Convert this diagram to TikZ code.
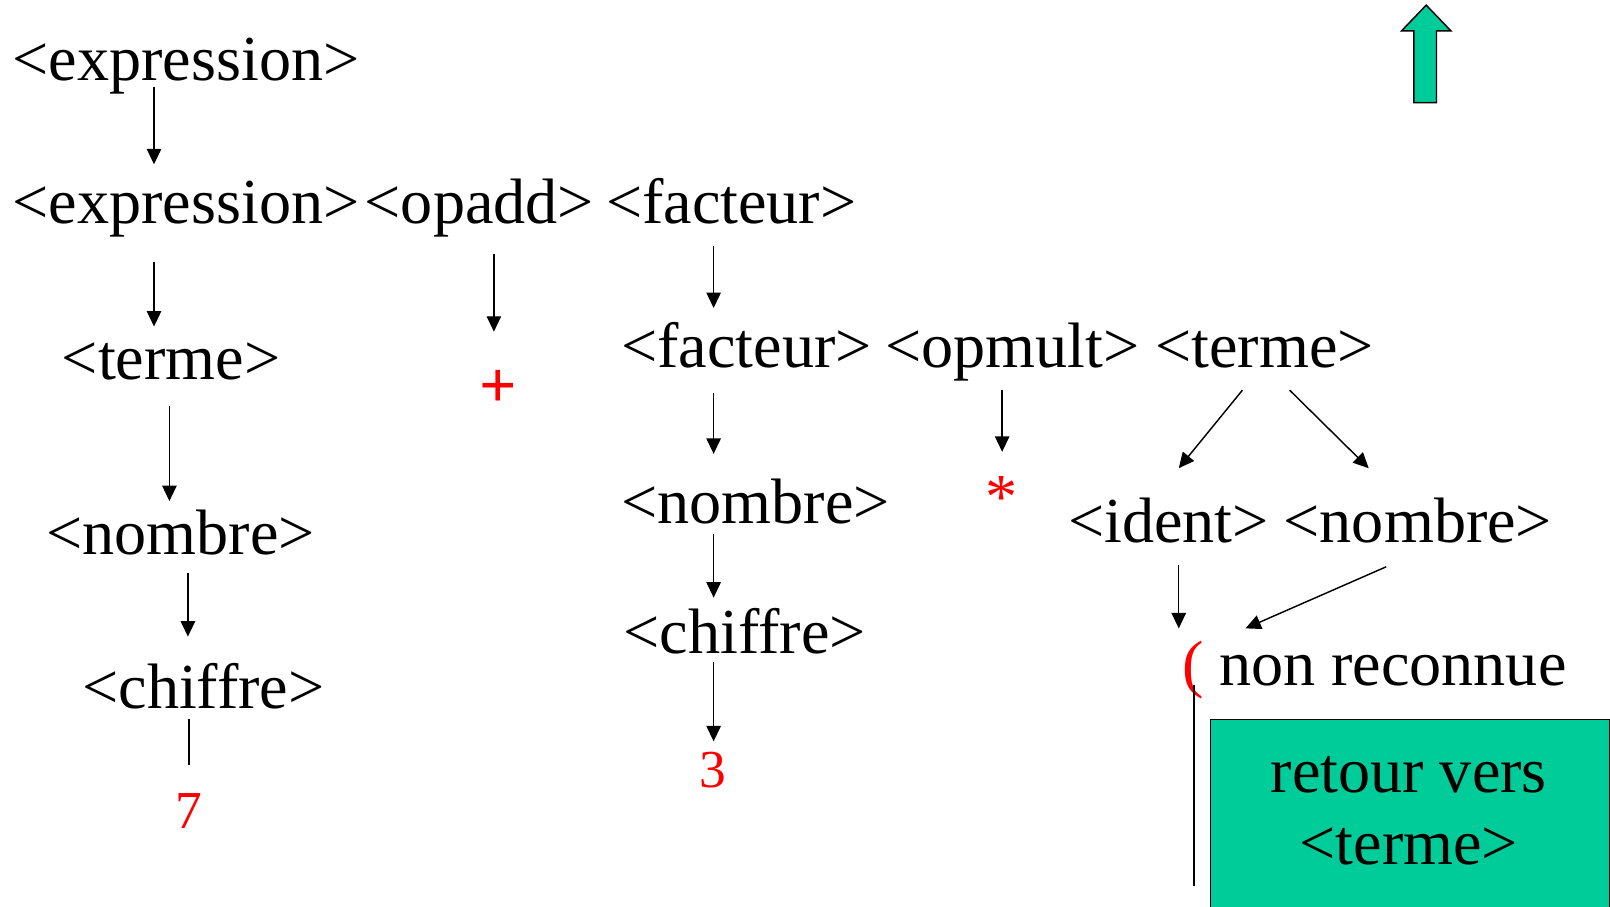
\documentclass[tikz,border=0pt]{standalone}
\usepackage{fontspec}
\setmainfont{Liberation Serif}
\usetikzlibrary{arrows.meta}
\definecolor{boxgreen}{RGB}{0,204,153}
\begin{document}
\begin{tikzpicture}[x=1pt,y=-1pt,
  lbl/.style={inner sep=0pt,anchor=base west,font=\fontsize{62.5}{75}\selectfont},
  red lbl/.style={inner sep=0pt,anchor=base,text=red,font=\fontsize{62.5}{75}\selectfont},
  digit/.style={red lbl,font=\fontsize{52}{62}\selectfont},
  arr/.style={line width=1.4pt,-{Triangle[length=15pt,width=14pt]}},
  plain/.style={line width=1.4pt}]
\useasboundingbox (0,0) rectangle (1568,883);
% texts
\node[lbl] (e1) at (12,78) {<expression>};
\node[lbl] (e2) at (12,218) {<expression>};
\node[lbl] (opadd) at (355,218) {<opadd>};
\node[lbl] (f1) at (590,218) {<facteur>};
\node[lbl] (t1) at (60,370) {<terme>};
\node[red lbl,font=\fontsize{64}{75}\selectfont\bfseries] (plus) at (485,397) {+};
\node[lbl] (f2) at (605,358) {<facteur>};
\node[lbl] (opmult) at (862,358) {<opmult>};
\node[lbl] (t2) at (1125,358) {<terme>};
\node[lbl] (n1) at (45,540) {<nombre>};
\node[lbl] (n2) at (605,510) {<nombre>};
\node[red lbl] (star) at (975,505) {*};
\node[lbl] (id) at (1040,528) {<ident>};
\node[lbl] (n3) at (1250,528) {<nombre>};
\node[lbl] (c1) at (80,690) {<chiffre>};
\node[lbl] (c2) at (607,636) {<chiffre>};
\node[red lbl,anchor=base west] (paren) at (1151,668) {(};
\node[lbl] (nr) at (1187,668) {non reconnue};
\node[digit] (seven) at (184,807) {7};
\node[digit] (three) at (694,767) {3};
% connector end points
\coordinate (a1s) at (150,85);   \coordinate (a1e) at (150,160);
\coordinate (a2s) at (150,255);  \coordinate (a2e) at (150,318);
\coordinate (a3s) at (481,247);  \coordinate (a3e) at (481,323);
\coordinate (a4s) at (695,240);  \coordinate (a4e) at (695,300);
\coordinate (a5s) at (165,395);  \coordinate (a5e) at (165,488);
\coordinate (a6s) at (695,383);  \coordinate (a6e) at (695,442);
\coordinate (a7s) at (976,380);  \coordinate (a7e) at (976,440);
\coordinate (a8s) at (1210,380); \coordinate (a8e) at (1148,456);
\coordinate (a9s) at (1256,380); \coordinate (a9e) at (1333,456);
\coordinate (b1s) at (183,558);  \coordinate (b1e) at (183,620);
\coordinate (b2s) at (695,520);  \coordinate (b2e) at (695,582);
\coordinate (b3s) at (1148,550); \coordinate (b3e) at (1148,612);
\coordinate (b4s) at (1350,552); \coordinate (b4e) at (1213,612);
\coordinate (l1s) at (184,700);  \coordinate (l1e) at (184,745);
\coordinate (b5s) at (695,645);  \coordinate (b5e) at (695,722);
\coordinate (l2s) at (1163,667); \coordinate (l2e) at (1163,863);
\draw[arr] (a1s) -- (a1e);
\draw[arr] (a2s) -- (a2e);
\draw[arr] (a3s) -- (a3e);
\draw[arr] (a4s) -- (a4e);
\draw[arr] (a5s) -- (a5e);
\draw[arr] (a6s) -- (a6e);
\draw[arr] (a7s) -- (a7e);
\draw[arr] (a8s) -- (a8e);
\draw[arr] (a9s) -- (a9e);
\draw[arr] (b1s) -- (b1e);
\draw[arr] (b2s) -- (b2e);
\draw[arr] (b3s) -- (b3e);
\draw[arr] (b4s) -- (b4e);
\draw[plain] (l1s) -- (l1e);
\draw[arr] (b5s) -- (b5e);
\draw[plain] (l2s) -- (l2e);
% green box
\node[draw=black,line width=1.4pt,fill=boxgreen,minimum width=389pt,minimum height=200pt,
  anchor=north west,inner sep=0pt] (box) at (1178,700) {};
\node[lbl,anchor=base] (r1) at (1372,772) {retour vers};
\node[lbl,anchor=base] (r2) at (1372,842) {<terme>};
% green up arrow
\draw[fill=boxgreen,line width=1.4pt] (1377,100) -- (1377,30) -- (1365,30) -- (1389,5) -- (1413,30) -- (1399,30) -- (1399,100) -- cycle;
\end{tikzpicture}
\end{document}
